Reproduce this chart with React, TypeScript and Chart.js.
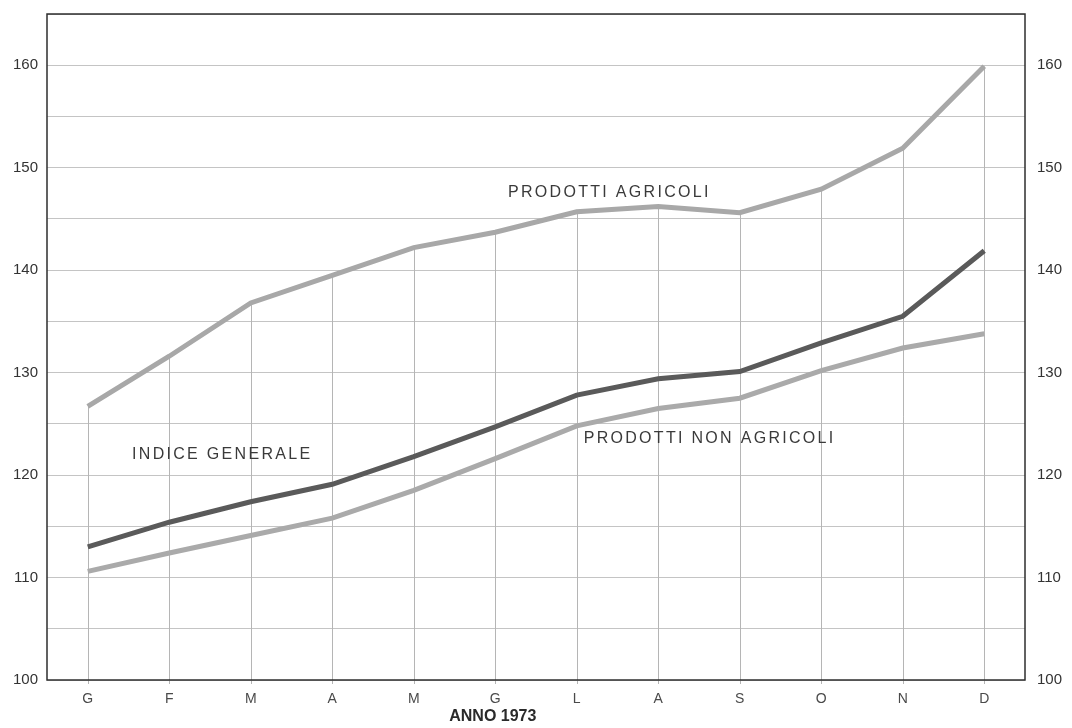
import React, { useEffect, useRef } from "react";
import { Chart, registerables } from "chart.js";

Chart.register(...registerables);

const months = ["G", "F", "M", "A", "M", "G", "L", "A", "S", "O", "N", "D"];
const prodottiAgricoli = [126.7, 131.6, 136.8, 139.5, 142.2, 143.7, 145.7, 146.2, 145.6, 147.9, 151.9, 159.9];
const indiceGenerale = [113.0, 115.4, 117.4, 119.1, 121.8, 124.7, 127.8, 129.4, 130.1, 132.9, 135.5, 141.9];
const prodottiNonAgricoli = [110.6, 112.4, 114.1, 115.8, 118.5, 121.6, 124.8, 126.5, 127.5, 130.2, 132.4, 133.8];
const yMin = 100;
const yMax = 165;
const yStep = 5;
const seriesLabels = [
  { text: "PRODOTTI AGRICOLI", idx: 6.4, value: 147.6 },
  { text: "INDICE GENERALE", idx: 1.65, value: 122.0 },
  { text: "PRODOTTI NON AGRICOLI", idx: 7.63, value: 123.6 },
];
const axisTitle = "ANNO 1973";

const FONT = "'Liberation Sans', Arial, sans-serif";

const gridPlugin = {
  id: "customGrid",
  beforeDatasetsDraw(chart: any) {
    const { ctx, chartArea, scales } = chart;
    const xs = scales.x;
    const ys = scales.y;
    ctx.save();
    ctx.strokeStyle = "#b5b5b5";
    ctx.lineWidth = 1;
    for (let i = 0; i < months.length; i++) {
      const x = Math.round(xs.getPixelForValue(i)) + 0.5;
      const yt = ys.getPixelForValue(prodottiAgricoli[i]);
      ctx.beginPath();
      ctx.moveTo(x, chartArea.bottom + 4);
      ctx.lineTo(x, yt);
      ctx.stroke();
    }
    ctx.restore();
  },
  afterDatasetsDraw(chart: any) {
    const { ctx, chartArea, scales } = chart;
    const xs = scales.x;
    const ys = scales.y;
    ctx.save();
    ctx.strokeStyle = "#2e2e2e";
    ctx.lineWidth = 1.5;
    ctx.strokeRect(chartArea.left, chartArea.top, chartArea.right - chartArea.left, chartArea.bottom - chartArea.top);
    // series labels
    ctx.fillStyle = "#3a3a3a";
    ctx.font = `16px ${FONT}`;
    (ctx as any).letterSpacing = "2.3px";
    ctx.textAlign = "center";
    ctx.textBaseline = "middle";
    for (const l of seriesLabels) {
      ctx.fillText(l.text, xs.getPixelForValue(l.idx), ys.getPixelForValue(l.value));
    }
    (ctx as any).letterSpacing = "0px";
    ctx.font = `bold 16px ${FONT}`;
    ctx.fillStyle = "#2a2a2a";
    ctx.fillText(axisTitle, xs.getPixelForValue(4.97), chart.height - 11);
    ctx.restore();
  },
};

const fitY = (s: any) => {
  s.width = 47;
  s.paddingTop = 0;
  s.paddingBottom = 0;
};

export default function App() {
  const ref = useRef<HTMLCanvasElement | null>(null);
  useEffect(() => {
    document.body.style.margin = "0";
    const canvas = ref.current;
    if (!canvas) return;
    const tickFont = { size: 15, family: FONT };
    const chart = new Chart(canvas, {
      type: "line",
      data: {
        labels: months,
        datasets: [
          {
            label: "Prodotti agricoli",
            data: prodottiAgricoli,
            borderColor: "#a8a8a8",
            borderWidth: 5,
            pointRadius: 0,
            tension: 0,
            yAxisID: "y",
          },
          {
            label: "Prodotti non agricoli",
            data: prodottiNonAgricoli,
            borderColor: "#aaaaaa",
            borderWidth: 5,
            pointRadius: 0,
            tension: 0,
            yAxisID: "y",
          },
          {
            label: "Indice generale",
            data: indiceGenerale,
            borderColor: "#5a5a5a",
            borderWidth: 5,
            pointRadius: 0,
            tension: 0,
            yAxisID: "y",
          },
        ],
      },
      options: {
        animation: false,
        responsive: true,
        maintainAspectRatio: false,
        layout: { padding: { top: 14, left: 0, right: 0, bottom: 0 } },
        plugins: { legend: { display: false }, tooltip: { enabled: false } },
        scales: {
          x: {
            type: "category",
            offset: true,
            grid: { display: false },
            border: { display: false },
            ticks: { color: "#4a4a4a", font: { size: 14, family: FONT }, padding: 3 },
            afterFit: (s: any) => {
              s.height = 48;
              s.paddingLeft = 0;
              s.paddingRight = 0;
            },
          },
          y: {
            position: "left",
            min: yMin,
            max: yMax,
            border: { display: false },
            grid: { color: "#c4c4c4", lineWidth: 1, drawTicks: false },
            ticks: {
              stepSize: yStep,
              color: "#333",
              font: tickFont,
              padding: 9,
              callback: (v: any) => (Number(v) % 10 === 0 ? String(v) : ""),
            },
            afterFit: fitY,
          },
          y2: {
            position: "right",
            min: yMin,
            max: yMax,
            border: { display: false },
            grid: { display: false, drawTicks: false },
            ticks: {
              stepSize: yStep,
              color: "#333",
              font: tickFont,
              padding: 12,
              callback: (v: any) => (Number(v) % 10 === 0 ? String(v) : ""),
            },
            afterFit: fitY,
          },
        },
      } as any,
      plugins: [gridPlugin],
    });
    return () => chart.destroy();
  }, []);
  return (
    <div style={{ width: 1072, height: 728, position: "relative", background: "#fff" }}>
      <canvas ref={ref} />
    </div>
  );
}
